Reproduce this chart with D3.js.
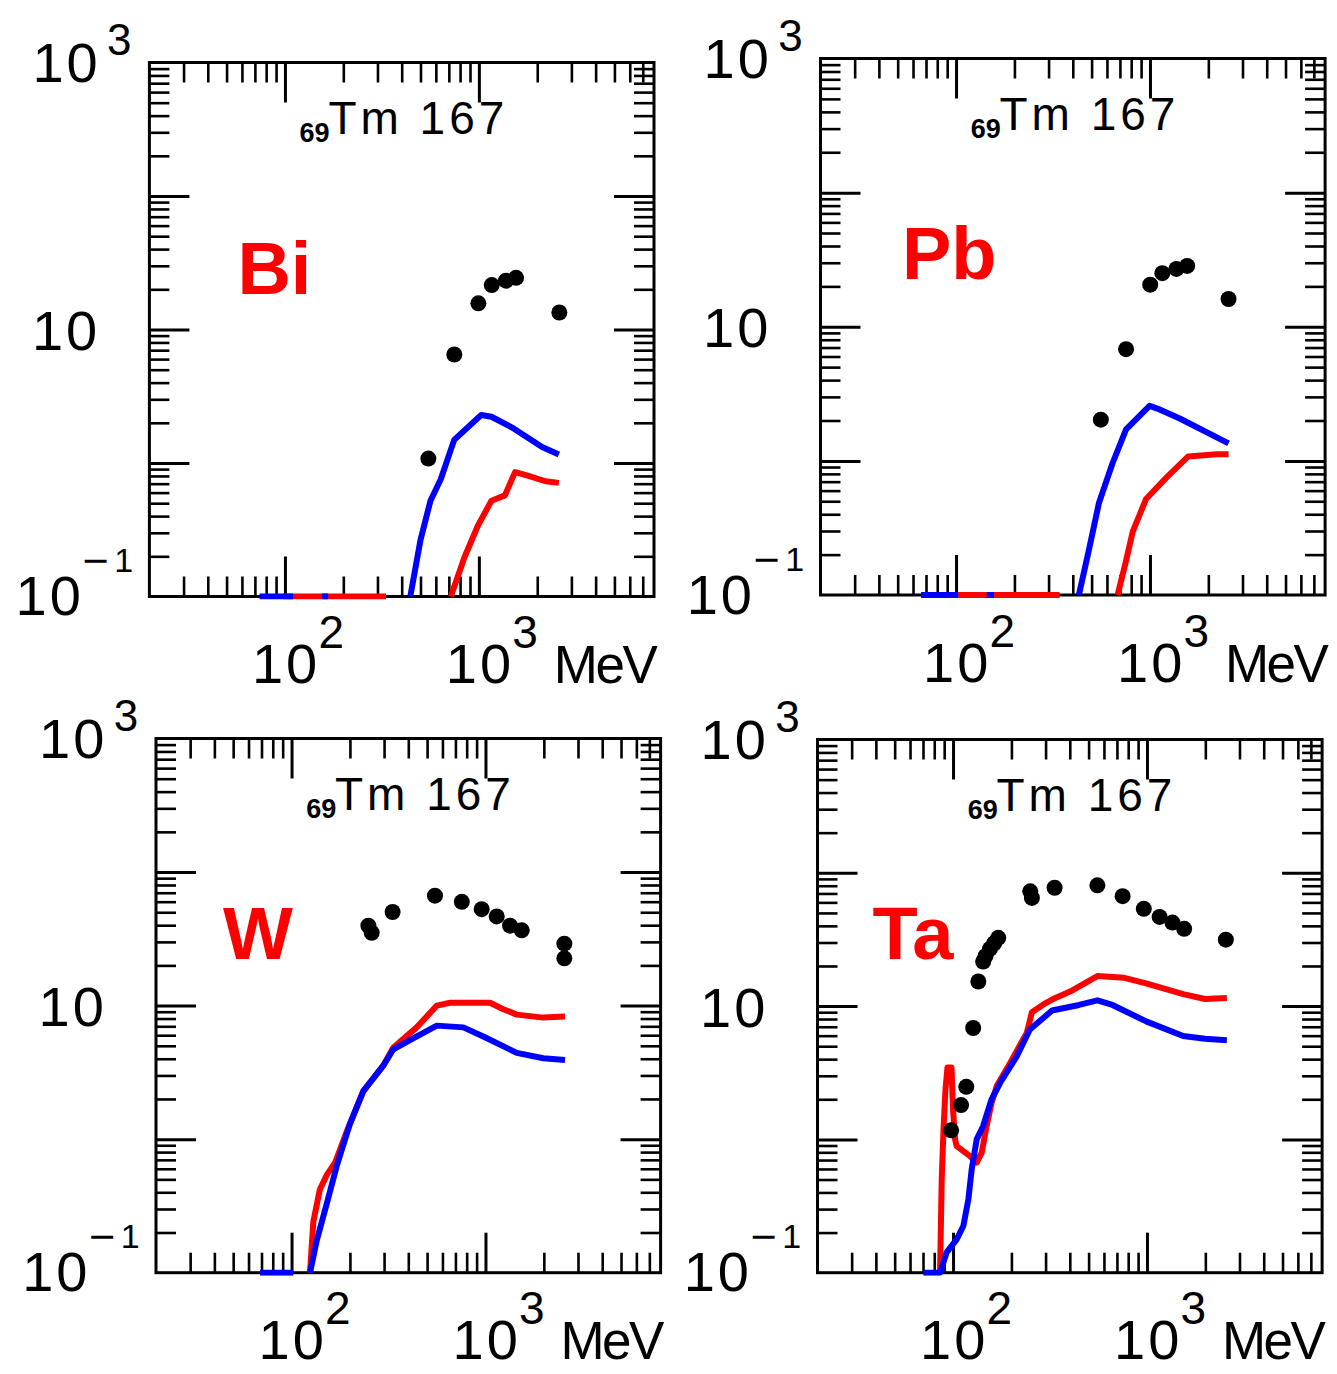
<!DOCTYPE html>
<html>
<head>
<meta charset="utf-8">
<script src="https://cdnjs.cloudflare.com/ajax/libs/d3/7.8.5/d3.min.js"></script>
<style>
  html, body { margin: 0; padding: 0; background: #ffffff; }
  svg { display: block; }
  text { font-family: "Liberation Sans", Arial, Helvetica, sans-serif; }
</style>
</head>
<body>
<svg id="chart" width="1337" height="1374"></svg>
<script>
// ---------------- data ----------------
const xDomain = [20, 8000];          // MeV
const yDomain = [0.1, 1000];
const xMajorTicks = [100, 1000];
const xMinorTicks = [30, 40, 50, 60, 70, 80, 90, 200, 300, 400, 500, 600, 700, 800, 900,
                     2000, 3000, 4000, 5000, 6000, 7000];
const yMajorTicks = [1, 10, 100];
const yMinorTicks = [0.2, 0.3, 0.4, 0.5, 0.6, 0.7, 0.8, 0.9, 2, 3, 4, 5, 6, 7, 8, 9,
                     20, 30, 40, 50, 60, 70, 80, 90, 200, 300, 400, 500, 600, 700, 800, 900];
const yLabelValues = [1000, 10, 0.1];
const yLabelBase = ["10", "10", "10"];
const yLabelSup = ["3", "", "\u22121"];
const xLabelValues = [100, 1000];
const xLabelBase = ["10", "10"];
const xLabelSup = ["2", "3"];
const xUnit = "MeV";
const titleSub = "69";
const titleMain = "Tm 167";
const targetNames = ["Bi", "Pb", "W", "Ta"];

// Bi
const biDotE = [549, 747, 994, 1165, 1380, 1555, 2600];
const biDotV = [1.08, 6.5, 15.7, 21.5, 23.2, 24.4, 13.4];
const biBlueE = [74, 110, null, 155, 167, null, 443, 500, 563, 636, 746, 1028, 1161, 1476, 2118, 2585];
const biBlueV = [0.1, 0.1, null, 0.1, 0.1, null, 0.1, 0.265, 0.522, 0.755, 1.49, 2.29, 2.22, 1.85, 1.32, 1.16];
const biRedE = [98, 332, null, 717, 841, 988, 1161, 1362, 1537, 1804, 2204, 2585];
const biRedV = [0.1, 0.1, null, 0.1, 0.195, 0.339, 0.522, 0.572, 0.855, 0.80, 0.73, 0.71];

// Pb
const pbDotE = [558, 753, 1003, 1158, 1369, 1555, 2542];
const pbDotV = [2.03, 6.8, 20.6, 25.1, 27.0, 28.4, 16.1];
const pbBlueE = [66, 102.5, null, 144, 157, null, 430, 485, 546, 641, 753, 995, 1121, 1424, 2542];
const pbBlueV = [0.1, 0.1, null, 0.1, 0.1, null, 0.1, 0.219, 0.488, 0.96, 1.72, 2.57, 2.42, 2.07, 1.35];
const pbRedE = [102.5, 342, null, 681, 753, 815, 955, 1215, 1575, 2210, 2542];
const pbRedV = [0.1, 0.1, null, 0.1, 0.18, 0.297, 0.52, 0.75, 1.08, 1.12, 1.12];

// W
const wDotE = [249, 259, 332, 549, 755, 956, 1143, 1339, 1538, 2551, 2551];
const wDotV = [39.7, 35.1, 50.2, 66.5, 59.8, 52.7, 46.5, 39.7, 36.6, 29.1, 22.6];
const wBlueE = [68.8, 102, null, 124.5, 135, 152, 171, 200, 234.5, 297, 335, 408, 561, 769, 975, 1450, 1988, 2572];
const wBlueV = [0.1, 0.1, null, 0.1, 0.175, 0.33, 0.63, 1.30, 2.29, 3.55, 4.71, 5.52, 7.08, 6.87, 5.87, 4.43, 4.03, 3.91];
const wRedE = [124.5, 129.5, 140, 152, 168, 193, 234.5, 297, 335, 442, 561, 657, 1056, 1236, 1450, 1988, 2572];
const wRedV = [0.1, 0.24, 0.42, 0.54, 0.67, 1.15, 2.29, 3.55, 4.86, 6.87, 10.0, 10.5, 10.5, 9.4, 8.56, 8.13, 8.29];

// Ta
const taDotE = [97.8, 110, 117, 127, 135, 143, 147, 155, 163, 171, 250, 255, 334, 555, 749, 963, 1162, 1353, 1555, 2551];
const taDotV = [1.17, 1.81, 2.48, 6.85, 15.3, 21.6, 23.7, 26.9, 29.6, 32.5, 72.6, 64.8, 77.2, 80.6, 66.8, 53.7, 46.7, 42.3, 38.0, 31.5];
const taBlueE = [70.2, 85.7, 92.7, 104.4, 113, 120, 124.8, 132.4, 143, 158, 175, 213, 249, 324, 446, 555, 664, 990, 1537, 1993, 2582];
const taBlueV = [0.1, 0.1, 0.142, 0.178, 0.224, 0.356, 0.596, 1.0, 1.26, 2.0, 2.66, 4.2, 6.67, 9.27, 10.2, 11.05, 10.2, 7.68, 5.97, 5.68, 5.54];
const taRedE = [85.7, 87.4, 89.3, 91.4, 93.6, 98.2, 99.96, 102.4, 104.4, 122.3, 132.4, 140.5, 149, 158, 168, 197, 240, 255, 299, 324, 412, 555, 764, 990, 1537, 1993, 2582];
const taRedV = [0.1, 0.50, 1.19, 2.37, 3.46, 3.46, 1.68, 1.0, 0.89, 0.75, 0.67, 0.795, 1.26, 1.88, 2.51, 3.75, 6.3, 8.99, 10.5, 11.2, 13.1, 16.8, 16.3, 14.8, 12.3, 11.3, 11.5];

// ---------------- layout ----------------
const panelX = [149.4, 820.5, 156, 817.5];
const panelY = [62.5, 58.5, 738.5, 739.5];
const panelH = [534, 536.5, 534.2, 533.2];
const nameX = [88, 81.5, 67, 55];
const nameY = [231.5, 220.5, 220.8, 219.8];
const PW = 504.6;

const svg = d3.select("#chart");
svg.append("rect").attr("width", 1337).attr("height", 1374).attr("fill", "#ffffff");

const x = d3.scaleLog().domain(xDomain).range([0, PW]);

const zip = (E, V) => E.map((e, i) => ({ e: e, v: V[i] }));
const seriesData = [
  { dots: zip(biDotE, biDotV), blue: zip(biBlueE, biBlueV), red: zip(biRedE, biRedV) },
  { dots: zip(pbDotE, pbDotV), blue: zip(pbBlueE, pbBlueV), red: zip(pbRedE, pbRedV) },
  { dots: zip(wDotE, wDotV), blue: zip(wBlueE, wBlueV), red: zip(wRedE, wRedV) },
  { dots: zip(taDotE, taDotV), blue: zip(taBlueE, taBlueV), red: zip(taRedE, taRedV) }
];

function styleTicks(sel, w) {
  sel.select(".domain").remove();
  sel.selectAll(".tick line").attr("stroke", "#000").attr("stroke-width", w);
  sel.selectAll(".tick text").remove();
}

// "10" drawn as "1" (spaced) + "0" so that the spacing does not trail after the last digit
function appendBase(t, str) {
  t.append("tspan").attr("font-size", 56).attr("letter-spacing", 3).text(str.charAt(0));
  t.append("tspan").attr("font-size", 56).text(str.slice(1));
}

targetNames.forEach((name, i) => {
  const PH = panelH[i];
  const y = d3.scaleLog().domain(yDomain).range([PH, 0]);
  const line = d3.line()
    .defined(d => d.e !== null && d.v !== null)
    .x(d => x(d.e))
    .y(d => y(d.v));

  const g = svg.append("g").attr("transform", `translate(${panelX[i]},${panelY[i]})`);

  g.append("clipPath").attr("id", "clip" + i)
    .append("rect").attr("x", -3).attr("y", -3).attr("width", PW + 6).attr("height", PH + 6);

  // ticks: top (down), bottom (up), left (right), right (left)
  [[xMinorTicks, 20, 2.6], [xMajorTicks, 40, 3]].forEach(([vals, len, w]) => {
    g.append("g").call(d3.axisBottom(x).tickValues(vals).tickSizeInner(len).tickSizeOuter(0).tickFormat(""))
      .call(s => styleTicks(s, w));
    g.append("g").attr("transform", `translate(0,${PH})`)
      .call(d3.axisTop(x).tickValues(vals).tickSizeInner(len).tickSizeOuter(0).tickFormat(""))
      .call(s => styleTicks(s, w));
  });
  [[yMinorTicks, 20, 2.6], [yMajorTicks, 40, 3]].forEach(([vals, len, w]) => {
    g.append("g").call(d3.axisRight(y).tickValues(vals).tickSizeInner(len).tickSizeOuter(0).tickFormat(""))
      .call(s => styleTicks(s, w));
    g.append("g").attr("transform", `translate(${PW},0)`)
      .call(d3.axisLeft(y).tickValues(vals).tickSizeInner(len).tickSizeOuter(0).tickFormat(""))
      .call(s => styleTicks(s, w));
  });

  // frame
  g.append("rect").attr("x", 0).attr("y", 0).attr("width", PW).attr("height", PH)
    .attr("fill", "none").attr("stroke", "#000").attr("stroke-width", 3);

  // y tick labels (base + superscript in one text element)
  yLabelValues.forEach((v, k) => {
    const yy = y(v);
    if (k === 0) {
      const t = g.append("text").attr("x", -117).attr("y", yy + 19.5);
      appendBase(t, yLabelBase[k]);
      t.append("tspan").attr("font-size", 44).attr("dx", 9.4).attr("dy", -27).text(yLabelSup[k]);
    } else if (k === 1) {
      const t = g.append("text").attr("x", -117.5).attr("y", yy + 20.5);
      appendBase(t, yLabelBase[k]);
    } else {
      const sup = yLabelSup[k];
      const t = g.append("text").attr("x", -133.8).attr("y", yy + 18.5);
      appendBase(t, yLabelBase[k]);
      t.append("tspan").attr("font-size", 45).attr("dx", 1.5).attr("dy", -39).text(sup.charAt(0));
      t.append("tspan").attr("font-size", 34).attr("dx", 5.5).attr("dy", -4).text(sup.slice(1));
    }
  });

  // x tick labels
  xLabelValues.forEach((v, k) => {
    const xx = x(v);
    const t = g.append("text").attr("x", xx - 33).attr("y", PH + 86.5);
    appendBase(t, xLabelBase[k]);
    t.append("tspan").attr("font-size", 46).attr("dx", 1.2).attr("dy", -35).text(xLabelSup[k]);
  });
  g.append("text").attr("x", x(1000) + 75).attr("y", PH + 86.5).attr("font-size", 53)
    .attr("letter-spacing", -2.5).text(xUnit);

  // title: subscript Z + "Tm 167"
  const tt = g.append("text").attr("x", 150.2).attr("y", 79.2);
  tt.append("tspan").attr("font-size", 27).attr("font-weight", "bold").text(titleSub);
  tt.append("tspan").attr("x", 179).attr("y", 71).attr("font-size", 46).attr("letter-spacing", 4)
    .text(titleMain);

  // target name
  g.append("text").attr("x", nameX[i]).attr("y", nameY[i]).attr("font-size", 74)
    .attr("font-weight", "bold").attr("fill", "#ff0000").text(name);

  // series
  const d = seriesData[i];
  const plot = g.append("g").attr("clip-path", `url(#clip${i})`);
  plot.append("path").datum(d.red).attr("d", line).attr("fill", "none")
    .attr("stroke", "#ff0000").attr("stroke-width", 6).attr("stroke-linejoin", "round");
  plot.append("path").datum(d.blue).attr("d", line).attr("fill", "none")
    .attr("stroke", "#0000ff").attr("stroke-width", 6).attr("stroke-linejoin", "round");
  plot.selectAll("circle").data(d.dots).join("circle")
    .attr("cx", p => x(p.e)).attr("cy", p => y(p.v)).attr("r", 8).attr("fill", "#000");
});
</script>
</body>
</html>
